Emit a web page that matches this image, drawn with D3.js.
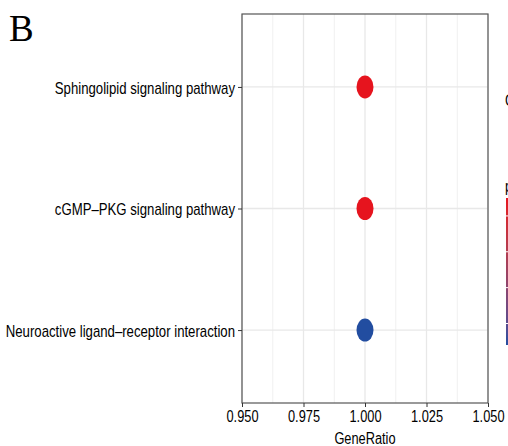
<!DOCTYPE html>
<html>
<head>
<meta charset="utf-8">
<script src="https://cdn.jsdelivr.net/npm/d3@7"></script>
<style>
  body { margin: 0; background: #fff; }
  svg { display: block; }
  text { font-family: "Liberation Sans", Arial, sans-serif; }
</style>
</head>
<body>
<div id="chart"></div>
<script>
// data
var pathways = ["Sphingolipid signaling pathway",
                "cGMP\u2013PKG signaling pathway",
                "Neuroactive ligand\u2013receptor interaction"];
var geneRatio = [1, 1, 1];
var pAdjust = [0.0105, 0.0105, 0.0146];
var counts = [1, 1, 1];
var xTicks = [0.950, 0.975, 1.000, 1.025, 1.050];
var xMinor = [0.9625, 0.9875, 1.0125, 1.0375];
var pAdjustTicks = [0.011, 0.012, 0.013, 0.014];

var W = 508, H = 446;
var margin = {top: 14, right: 20, bottom: 43, left: 242},
    width = 488 - margin.left,
    height = H - margin.top - margin.bottom;

// squeeze text to look like Arial Narrow (no narrow face installed)
function narrow(sel, k) {
  k = k || 0.82;
  sel.each(function() {
    var w = this.getComputedTextLength();
    d3.select(this)
      .attr("textLength", w * k)
      .attr("lengthAdjust", "spacingAndGlyphs");
  });
}

var svg = d3.select("#chart")
  .append("svg")
    .attr("width", W)
    .attr("height", H);

// panel label
svg.append("text")
  .attr("x", 9)
  .attr("y", 41)
  .style("font-family", "'Liberation Serif', 'Times New Roman', serif")
  .style("font-size", "37px")
  .text("B");

var g = svg.append("g")
  .attr("transform", "translate(" + margin.left + "," + margin.top + ")");

var x = d3.scaleLinear()
  .domain([0.95, 1.05])
  .range([0, width]);

var y = d3.scalePoint()
  .domain(pathways)
  .range([0, height])
  .padding(0.6);

var color = d3.scaleLinear()
  .domain(d3.extent(pAdjust))
  .range(["#e6141e", "#224da0"])
  .interpolate(d3.interpolateLab);

// grid
g.selectAll(".minor")
  .data(xMinor)
  .join("line")
    .attr("x1", d => x(d)).attr("x2", d => x(d))
    .attr("y1", 0).attr("y2", height)
    .attr("stroke", "#f0f0f0")
    .attr("stroke-width", 1);

g.selectAll(".major")
  .data(xTicks)
  .join("line")
    .attr("x1", d => x(d)).attr("x2", d => x(d))
    .attr("y1", 0).attr("y2", height)
    .attr("stroke", "#e8e8e8")
    .attr("stroke-width", 1.3);

g.selectAll(".hgrid")
  .data(pathways)
  .join("line")
    .attr("x1", 0).attr("x2", width)
    .attr("y1", d => y(d)).attr("y2", d => y(d))
    .attr("stroke", "#e8e8e8")
    .attr("stroke-width", 1.3);

// points
var rows = pathways.map((p, i) => ({pathway: p, ratio: geneRatio[i], p: pAdjust[i], count: counts[i]}));

g.selectAll(".dot")
  .data(rows)
  .join("ellipse")
    .attr("cx", d => x(d.ratio))
    .attr("cy", d => y(d.pathway))
    .attr("rx", 8.5)
    .attr("ry", 11.5)
    .attr("fill", d => color(d.p));

// border
g.append("rect")
  .attr("width", width)
  .attr("height", height)
  .attr("fill", "none")
  .attr("stroke", "#555")
  .attr("stroke-width", 1.2);

// x axis
var xAxis = g.append("g")
  .attr("transform", "translate(0," + height + ")")
  .call(d3.axisBottom(x).tickValues(xTicks).tickFormat(d3.format(".3f")).tickSize(4).tickPadding(4));
xAxis.select(".domain").remove();
xAxis.selectAll("line").attr("stroke", "#333");
xAxis.selectAll("text")
  .attr("fill", "#000")
  .style("font-size", "16px")
  .style("font-family", "'Liberation Sans', Arial, sans-serif")
  .call(narrow, 0.8);

// y axis
var yAxis = g.append("g")
  .call(d3.axisLeft(y).tickSize(4).tickPadding(3));
yAxis.select(".domain").remove();
yAxis.selectAll("line").attr("stroke", "#333");
yAxis.selectAll("text")
  .attr("fill", "#000")
  .attr("dy", "0.36em")
  .style("font-size", "17px")
  .style("font-family", "'Liberation Sans', Arial, sans-serif")
  .call(narrow, 0.775);

// x title
svg.append("text")
  .attr("x", margin.left + width / 2)
  .attr("y", 444)
  .attr("text-anchor", "middle")
  .style("font-size", "16px")
  .attr("fill", "#000")
  .text("GeneRatio")
  .call(narrow, 0.8);

// legend (mostly cut off at the right edge)
var lg = svg.append("g").attr("transform", "translate(505,0)");

lg.append("text")
  .attr("x", 0).attr("y", 106)
  .style("font-size", "16px")
  .text("Count")
  .call(narrow);

lg.append("circle")
  .attr("cx", 12).attr("cy", 130).attr("r", 6)
  .attr("fill", "#cfcfcf");

lg.append("text")
  .attr("x", 0).attr("y", 192)
  .style("font-size", "16px")
  .text("p.adjust")
  .call(narrow);

var barTop = 198, barH = 147, barW = 17;
var barY = d3.scaleLinear().domain(d3.extent(pAdjust)).range([barTop, barTop + barH]);

var grad = svg.append("defs").append("linearGradient")
  .attr("id", "pgrad")
  .attr("x1", 0).attr("y1", 0).attr("x2", 0).attr("y2", 1);
grad.selectAll("stop")
  .data(d3.range(0, 1.0001, 0.1))
  .join("stop")
    .attr("offset", d => d)
    .attr("stop-color", d => color(barY.invert(barTop + d * barH)));

lg.append("rect")
  .attr("x", 1).attr("y", barTop)
  .attr("width", barW).attr("height", barH)
  .attr("fill", "url(#pgrad)");

lg.selectAll(".ptick")
  .data(pAdjustTicks)
  .join("line")
    .attr("x1", 1).attr("x2", 4)
    .attr("y1", d => barY(d)).attr("y2", d => barY(d))
    .attr("stroke", "#fff")
    .attr("stroke-width", 1);
</script>
</body>
</html>
